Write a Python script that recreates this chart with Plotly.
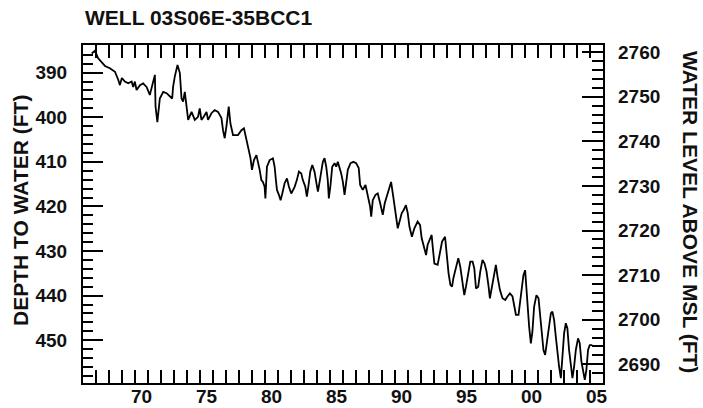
import plotly.graph_objects as go

# Well hydrograph: depth to water below land surface, by decimal year
years = [
    1966.67, 1966.92, 1967.17, 1967.44, 1967.69, 1968.07, 1968.46, 1968.71, 1968.84, 1968.99,
    1969.22, 1969.48, 1969.74, 1969.86, 1969.99, 1970.12, 1970.38, 1970.63, 1970.89, 1971.14,
    1971.40, 1971.53, 1971.58, 1971.72, 1971.91, 1972.17, 1972.43, 1972.68, 1972.86, 1972.93,
    1973.06, 1973.27, 1973.45, 1973.58, 1973.70, 1973.83, 1973.96, 1974.09, 1974.35, 1974.60,
    1974.85, 1974.98, 1975.11, 1975.29, 1975.50, 1975.62, 1975.88, 1976.13, 1976.39, 1976.65,
    1976.77, 1976.90, 1977.03, 1977.21, 1977.34, 1977.54, 1977.92, 1978.19, 1978.38, 1978.52,
    1978.69, 1978.88, 1979.00, 1979.15, 1979.34, 1979.46, 1979.59, 1979.72, 1979.84, 1979.97,
    1980.03, 1980.15, 1980.36, 1980.61, 1980.74, 1980.84, 1980.92, 1981.07, 1981.20, 1981.33,
    1981.51, 1981.69, 1981.84, 1982.02, 1982.15, 1982.28, 1982.45, 1982.61, 1982.79, 1982.91,
    1983.10, 1983.22, 1983.35, 1983.48, 1983.64, 1983.81, 1983.94, 1984.07, 1984.20, 1984.33,
    1984.45, 1984.58, 1984.71, 1984.83, 1984.91, 1985.04, 1985.17, 1985.35, 1985.48, 1985.60,
    1985.73, 1985.86, 1985.99, 1986.12, 1986.25, 1986.37, 1986.58, 1986.81, 1987.01, 1987.21,
    1987.32, 1987.52, 1987.73, 1987.91, 1988.09, 1988.17, 1988.29, 1988.50, 1988.67, 1988.86,
    1989.06, 1989.21, 1989.36, 1989.57, 1989.70, 1989.83, 1989.96, 1990.09, 1990.21, 1990.34,
    1990.52, 1990.67, 1990.84, 1990.98, 1991.11, 1991.30, 1991.49, 1991.74, 1991.93, 1992.05,
    1992.26, 1992.39, 1992.51, 1992.70, 1992.82, 1992.90, 1993.03, 1993.28, 1993.41, 1993.62,
    1993.85, 1993.97, 1994.12, 1994.26, 1994.39, 1994.49, 1994.69, 1994.87, 1995.02, 1995.15,
    1995.33, 1995.46, 1995.64, 1995.79, 1995.97, 1996.10, 1996.23, 1996.40, 1996.56, 1996.73,
    1996.89, 1997.04, 1997.20, 1997.30, 1997.46, 1997.63, 1997.76, 1997.89, 1998.07, 1998.27,
    1998.48, 1998.65, 1998.84, 1999.04, 1999.17, 1999.30, 1999.50, 1999.61, 1999.76, 1999.88,
    2000.01, 2000.11, 2000.22, 2000.32, 2000.45, 2000.57, 2000.70, 2000.88, 2001.04, 2001.14,
    2001.30, 2001.42, 2001.55, 2001.68, 2001.86, 2001.99, 2002.11, 2002.24, 2002.37, 2002.49,
    2002.62, 2002.76, 2002.88, 2003.01, 2003.14, 2003.26, 2003.39, 2003.52, 2003.65, 2003.78,
    2003.91, 2004.08, 2004.21, 2004.34, 2004.47, 2004.60, 2004.72, 2004.85, 2004.98, 2005.18,
]
depth_ft = [
    385.7, 385.1, 386.8, 387.6, 388.5, 389.0, 389.8, 391.6, 392.8, 391.2,
    392.0, 392.4, 392.0, 393.2, 392.0, 393.9, 392.8, 392.4, 393.2, 395.0,
    391.6, 390.5, 397.6, 401.1, 395.8, 394.3, 394.6, 395.4, 395.8, 393.2,
    390.9, 388.3, 390.1, 395.8, 396.5, 394.3, 396.9, 400.6, 398.8, 400.6,
    399.9, 398.0, 400.6, 399.9, 398.8, 400.6, 399.1, 398.4, 398.8, 400.2,
    402.9, 404.7, 402.1, 397.6, 401.4, 404.0, 404.0, 402.9, 402.5, 404.4,
    406.9, 409.1, 411.8, 409.6, 408.5, 410.0, 411.8, 414.1, 414.5, 415.6,
    418.2, 411.1, 409.6, 409.2, 411.1, 414.1, 416.3, 417.4, 418.6, 417.1,
    414.8, 413.7, 415.6, 417.1, 416.3, 415.6, 414.1, 412.2, 412.6, 414.1,
    415.6, 417.8, 415.2, 412.2, 410.7, 412.2, 414.5, 416.7, 414.5, 412.2,
    410.0, 409.2, 411.1, 414.1, 418.2, 415.2, 411.1, 410.3, 411.1, 410.0,
    411.2, 412.6, 414.5, 417.4, 414.5, 411.8, 410.3, 410.0, 410.3, 411.4,
    415.2, 416.3, 415.2, 417.8, 420.1, 422.3, 418.6, 417.4, 417.1, 419.3,
    421.9, 419.3, 417.8, 416.3, 414.5, 417.1, 420.1, 423.0, 424.9, 423.5,
    421.5, 420.8, 419.7, 421.5, 424.5, 426.8, 424.9, 423.4, 424.2, 427.1,
    429.8, 430.9, 428.6, 427.1, 426.4, 429.0, 432.8, 433.1, 430.9, 427.9,
    426.8, 430.5, 435.0, 437.6, 438.0, 436.1, 433.9, 431.6, 433.5, 436.5,
    439.9, 438.0, 434.3, 432.4, 432.4, 433.9, 438.4, 438.0, 434.6, 432.0,
    432.8, 434.6, 438.0, 440.6, 438.0, 435.4, 433.1, 435.8, 438.7, 440.6,
    441.0, 440.2, 439.5, 440.2, 442.5, 444.3, 444.3, 441.7, 438.7, 435.4,
    434.3, 438.7, 444.0, 447.0, 450.7, 448.1, 442.5, 439.9, 440.6, 444.0,
    448.4, 452.2, 453.3, 450.7, 447.0, 444.0, 443.6, 445.5, 449.2, 452.9,
    455.9, 458.5, 453.7, 448.4, 446.2, 447.3, 452.2, 455.9, 458.5, 455.9,
    452.2, 449.6, 450.7, 454.8, 457.4, 458.9, 456.7, 452.2, 451.1, 451.1,
]

# Land-surface datum (ft above MSL) linking depth to water-level elevation
land_surface_ft = 3145.4
water_level_ft = [land_surface_ft - d for d in depth_ft]

# Axis extents and tick labels
year_range = [1966.0, 2006.0]
depth_range = [459.6, 383.8]
year_ticks = list(range(1967, 2006))
label_years = [1970, 1975, 1980, 1985, 1990, 1995, 2000, 2005]
year_labels = ["70", "75", "80", "85", "90", "95", "00", "05"]
depth_major = [390, 400, 410, 420, 430, 440, 450]
depth_minor = list(range(384, 460, 2))
level_major = [2690, 2700, 2710, 2720, 2730, 2740, 2750, 2760]
level_minor = list(range(2686, 2762, 2))

FONT = "Liberation Sans, Arial, Helvetica, sans-serif"
INK = "#111111"

fig = go.Figure()
fig.add_trace(go.Scatter(
    x=years, y=depth_ft, mode="lines",
    line=dict(color="black", width=1.8),
    xaxis="x", yaxis="y", showlegend=False, hoverinfo="skip",
))
# Same record expressed as elevation, carried by the secondary axes
fig.add_trace(go.Scatter(
    x=years, y=water_level_ft, mode="lines",
    line=dict(color="black", width=1.8), opacity=0,
    xaxis="x2", yaxis="y2", showlegend=False, hoverinfo="skip",
))

tick_font = dict(family=FONT, size=19, color=INK, weight="bold")

fig.update_layout(
    width=703, height=408,
    margin=dict(l=83, r=100, t=45, b=25),
    paper_bgcolor="white", plot_bgcolor="white",
    font=dict(family=FONT, color=INK),
    xaxis=dict(
        range=year_range, tickmode="array", tickvals=year_ticks,
        ticks="inside", ticklen=13, tickwidth=1.8, tickcolor="black",
        showticklabels=False, showgrid=False, zeroline=False, automargin=False,
        showline=True, linewidth=2, linecolor="black", mirror="ticks",
    ),
    xaxis2=dict(
        range=year_range, overlaying="x", anchor="y", side="bottom",
        tickmode="array", tickvals=[y + 0.5 for y in label_years], ticktext=year_labels,
        ticks="", showgrid=False, zeroline=False, showline=False, automargin=False,
        tickfont=tick_font,
    ),
    yaxis=dict(
        range=depth_range, tickmode="array", tickvals=depth_major,
        ticks="inside", ticklen=20, tickwidth=1.8, tickcolor="black",
        minor=dict(tickvals=depth_minor, ticks="inside", ticklen=10,
                   tickwidth=1.8, tickcolor="black", showgrid=False),
        showgrid=False, zeroline=False, automargin=False,
        showline=True, linewidth=2, linecolor="black", mirror=True,
        tickfont=tick_font, ticklabelstandoff=10,
    ),
    yaxis2=dict(
        range=[land_surface_ft - depth_range[0], land_surface_ft - depth_range[1]],
        overlaying="y", anchor="x", side="right",
        tickmode="array", tickvals=level_major,
        ticks="inside", ticklen=21, tickwidth=1.8, tickcolor="black",
        minor=dict(tickvals=level_minor, ticks="inside", ticklen=11,
                   tickwidth=1.8, tickcolor="black", showgrid=False),
        showgrid=False, zeroline=False, showline=False, automargin=False,
        tickfont=tick_font, ticklabelstandoff=14,
    ),
    annotations=[
        dict(text="<b>WELL 03S06E-35BCC1</b>", xref="paper", yref="paper",
             x=0, y=1 + (45 - 18) / 338, xanchor="left", yanchor="middle",
             showarrow=False, font=dict(family=FONT, size=21, color=INK)),
        dict(text="<b>DEPTH TO WATER (FT)</b>", xref="paper", yref="paper",
             x=(21 - 83) / 520, y=0.509, xanchor="center", yanchor="middle",
             textangle=-90, showarrow=False,
             font=dict(family=FONT, size=21, color=INK)),
        dict(text="<b>WATER LEVEL ABOVE MSL (FT)</b>", xref="paper", yref="paper",
             x=(690 - 83) / 520, y=0.506, xanchor="center", yanchor="middle",
             textangle=90, showarrow=False,
             font=dict(family=FONT, size=21, color=INK)),
    ],
)

fig.write_html("out.html")
